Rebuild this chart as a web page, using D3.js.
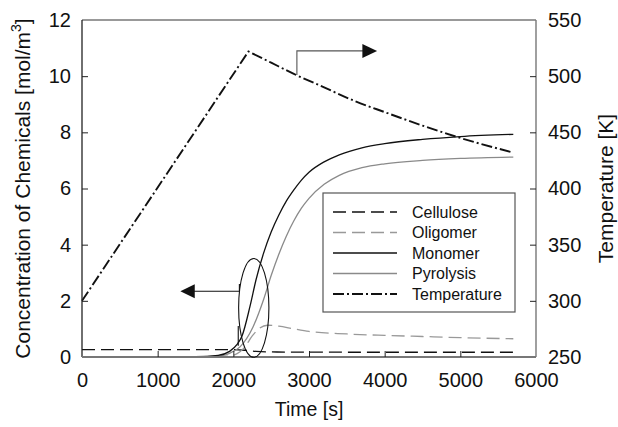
<!DOCTYPE html>
<html>
<head>
<meta charset="utf-8">
<script src="https://cdn.jsdelivr.net/npm/d3@7"></script>
<style>
  body { margin: 0; background: #fff; }
  text { font-family: "Liberation Sans", Arial, sans-serif; fill: #111; }
</style>
</head>
<body>
<div id="chart"></div>
<script>
'use strict';

// time axis [s]
var xTicks = [0, 1000, 2000, 3000, 4000, 5000, 6000];
var yLeftTicks = [0, 2, 4, 6, 8, 10, 12];
var yRightTicks = [250, 300, 350, 400, 450, 500, 550];

// concentrations [mol/m3]
var cellulose = [[0, 0.26], [2000, 0.26], [2150, 0.24], [2300, 0.2], [2500, 0.18], [3500, 0.17], [5700, 0.17]];
var oligomer = [[0, 0], [1800, 0.01], [1950, 0.04], [2050, 0.12], [2150, 0.35], [2250, 0.75], [2350, 1.03],
  [2450, 1.13], [2600, 1.1], [2800, 1.0], [3000, 0.91], [3500, 0.82], [4000, 0.77], [4500, 0.73], [5000, 0.69], [5700, 0.65]];
var monomer = [[0, 0], [1500, 0.01], [1800, 0.06], [1950, 0.2], [2050, 0.45], [2115, 0.75], [2220, 1.8], [2300, 2.75],
  [2400, 3.7], [2500, 4.45], [2600, 5.05], [2700, 5.55], [2800, 5.95], [2900, 6.3], [3000, 6.58], [3200, 6.95],
  [3400, 7.2], [3700, 7.45], [4000, 7.6], [4500, 7.75], [5000, 7.85], [5700, 7.93]];
var pyrolysis = [[0, 0], [1600, 0.01], [1850, 0.05], [1956, 0.14], [2088, 0.36], [2260, 1.07], [2400, 2.05],
  [2500, 2.9], [2600, 3.65], [2700, 4.3], [2800, 4.85], [2900, 5.3], [3000, 5.65], [3200, 6.15], [3400, 6.47],
  [3700, 6.74], [4000, 6.88], [4500, 7.0], [5000, 7.07], [5700, 7.12]];
// temperature [K]
var temperature = [[0, 300], [2200, 522], [2500, 512], [2800, 502], [3200, 490], [3600, 478], [4000, 468],
  [4500, 456], [5000, 445], [5700, 432]];

var legendNames = ["Cellulose", "Oligomer", "Monomer", "Pyrolysis", "Temperature"];

var W = 618, H = 427;
var margin = { left: 82, right: 82, top: 20, bottom: 70 };

var svg = d3.select("#chart").append("svg")
  .attr("width", W).attr("height", H);

var x = d3.scaleLinear().domain([0, 6000]).range([margin.left, W - margin.right]);
var yL = d3.scaleLinear().domain([0, 12]).range([H - margin.bottom, margin.top]);
var yR = d3.scaleLinear().domain([250, 550]).range([H - margin.bottom, margin.top]);

var styles = {
  Cellulose: { stroke: "#111", width: 1.3, dash: "13,6" },
  Oligomer: { stroke: "#999", width: 1.3, dash: "13,6" },
  Monomer: { stroke: "#111", width: 1.3, dash: null },
  Pyrolysis: { stroke: "#8a8a8a", width: 1.3, dash: null },
  Temperature: { stroke: "#111", width: 1.9, dash: "11,3,2,3" }
};

var lineL = d3.line().x(function(d) { return x(d[0]); }).y(function(d) { return yL(d[1]); })
  .curve(d3.curveMonotoneX);

function drawSeries(data, name)
{
  var s = styles[name];
  svg.append("path")
    .attr("d", lineL(data))
    .attr("fill", "none")
    .attr("stroke", s.stroke)
    .attr("stroke-width", s.width)
    .attr("stroke-dasharray", s.dash);
}

drawSeries(cellulose, "Cellulose");
drawSeries(oligomer, "Oligomer");
drawSeries(pyrolysis, "Pyrolysis");
drawSeries(monomer, "Monomer");

// temperature: straight ramp, then smooth cooling
var rise = d3.line().x(function(d) { return x(d[0]); }).y(function(d) { return yR(d[1]); })(temperature.slice(0, 2));
var fall = d3.line().x(function(d) { return x(d[0]); }).y(function(d) { return yR(d[1]); })
  .curve(d3.curveMonotoneX)(temperature.slice(1));
svg.append("path")
  .attr("d", rise + "L" + fall.slice(1))
  .attr("fill", "none")
  .attr("stroke", styles.Temperature.stroke)
  .attr("stroke-width", styles.Temperature.width)
  .attr("stroke-dasharray", styles.Temperature.dash);

// frame
var x0 = x(0), x1 = x(6000), y0 = yL(0), y1 = yL(12);
svg.append("line").attr("x1", x0).attr("x2", x1).attr("y1", y1).attr("y2", y1)
  .attr("stroke", "#777").attr("stroke-width", 1.6);
svg.append("line").attr("x1", x1).attr("x2", x1).attr("y1", y1).attr("y2", y0)
  .attr("stroke", "#777").attr("stroke-width", 1.4);
svg.append("line").attr("x1", x0).attr("x2", x0).attr("y1", y1).attr("y2", y0)
  .attr("stroke", "#222").attr("stroke-width", 1.3);
svg.append("line").attr("x1", x0).attr("x2", x1).attr("y1", y0).attr("y2", y0)
  .attr("stroke", "#777").attr("stroke-width", 2);

// axes (inward ticks)
var gx = svg.append("g").attr("transform", "translate(0," + y0 + ")")
  .call(d3.axisBottom(x).tickValues(xTicks).tickSize(-6).tickPadding(16).tickFormat(d3.format("d")));
var gl = svg.append("g").attr("transform", "translate(" + x0 + ",0)")
  .call(d3.axisLeft(yL).tickValues(yLeftTicks).tickSize(-6).tickPadding(11).tickFormat(d3.format("d")));
var gr = svg.append("g").attr("transform", "translate(" + x1 + ",0)")
  .call(d3.axisRight(yR).tickValues(yRightTicks).tickSize(-6).tickPadding(12).tickFormat(d3.format("d")));

[gx, gl, gr].forEach(function(g) {
  g.select(".domain").remove();
  g.selectAll(".tick line").attr("stroke", "#222").attr("stroke-width", 1);
  g.selectAll(".tick text").attr("font-size", 20).attr("font-family", "Liberation Sans, Arial, sans-serif").attr("fill", "#111");
});
gx.selectAll(".tick").filter(function(d) { return d === 0 || d === 6000; }).select("line").remove();
gl.selectAll(".tick").filter(function(d) { return d === 0 || d === 12; }).select("line").remove();
gr.selectAll(".tick").filter(function(d) { return d === 250 || d === 550; }).select("line").remove();

// axis titles
svg.append("text").attr("x", (x0 + x1) / 2).attr("y", 416)
  .attr("text-anchor", "middle").attr("font-size", 19.5).text("Time [s]");

var yt = svg.append("text")
  .attr("transform", "translate(30," + ((y0 + y1) / 2) + ") rotate(-90)")
  .attr("text-anchor", "middle").attr("font-size", 21);
yt.append("tspan").text("Concentration of Chemicals [mol/m");
yt.append("tspan").attr("font-size", 14).attr("dy", -9).text("3");
yt.append("tspan").attr("dy", 9).text("]");

svg.append("text")
  .attr("transform", "translate(613," + ((y0 + y1) / 2) + ") rotate(-90)")
  .attr("text-anchor", "middle").attr("font-size", 21).text("Temperature [K]");

// annotations: ellipse marking ignition, arrows to the axes
var ell = { t: 2270, c: 1.75, rt: 200, rc: 1.76 };
svg.append("ellipse")
  .attr("cx", x(ell.t)).attr("cy", yL(ell.c))
  .attr("rx", x(ell.rt) - x(0)).attr("ry", yL(0) - yL(ell.rc))
  .attr("fill", "none").attr("stroke", "#111").attr("stroke-width", 1.1);
svg.append("line")
  .attr("x1", x(2065)).attr("x2", x(2065)).attr("y1", yL(1.1)).attr("y2", yL(0.4))
  .attr("stroke", "#111").attr("stroke-width", 1.1);

var leftArrow = [[2080, 2.6], [2080, 2.34], [1480, 2.34]];
svg.append("path")
  .attr("d", d3.line().x(function(d) { return x(d[0]); }).y(function(d) { return yL(d[1]); })(leftArrow))
  .attr("fill", "none").attr("stroke", "#111").attr("stroke-width", 1.1);
svg.append("path")
  .attr("d", "M" + x(1300) + "," + yL(2.34) + "L" + x(1490) + "," + (yL(2.34) - 7) + "L" + x(1490) + "," + (yL(2.34) + 7) + "Z")
  .attr("fill", "#111");

var rightArrow = [[2840, 501], [2840, 522.5], [3715, 522.5]];
svg.append("path")
  .attr("d", d3.line().x(function(d) { return x(d[0]); }).y(function(d) { return yR(d[1]); })(rightArrow))
  .attr("fill", "none").attr("stroke", "#555").attr("stroke-width", 1.1);
svg.append("path")
  .attr("d", "M" + x(3900) + "," + yR(522.5) + "L" + x(3705) + "," + (yR(522.5) - 7) + "L" + x(3705) + "," + (yR(522.5) + 7) + "Z")
  .attr("fill", "#111");

// legend
var lg = svg.append("g").attr("transform", "translate(323,193)");
lg.append("rect").attr("width", 192).attr("height", 119)
  .attr("fill", "#fff").attr("stroke", "#555").attr("stroke-width", 1.2);
legendNames.forEach(function(name, i) {
  var s = styles[name];
  var yy = 19 + i * 20.5;
  lg.append("line").attr("x1", 10).attr("x2", 74).attr("y1", yy).attr("y2", yy)
    .attr("stroke", s.stroke).attr("stroke-width", s.width).attr("stroke-dasharray", s.dash);
  lg.append("text").attr("x", 89).attr("y", yy).attr("dy", "0.35em")
    .attr("font-size", 16).text(name);
});
</script>
</body>
</html>
